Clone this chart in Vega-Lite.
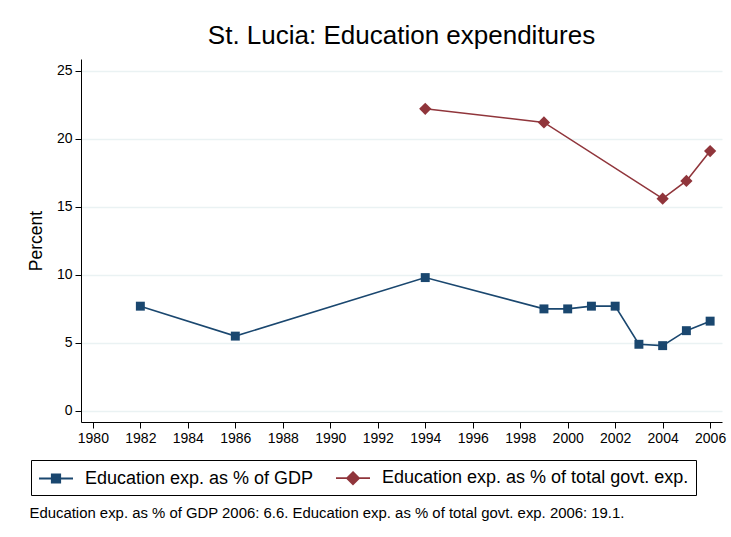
{
  "$schema": "https://vega.github.io/schema/vega-lite/v6.json",
  "autosize": "none",
  "width": 641,
  "height": 363,
  "padding": {"left": 81, "top": 59, "right": 9, "bottom": 115},
  "background": "white",
  "config": {"view": {"stroke": null}, "font": "Liberation Sans"},
  "title": {"text": "St. Lucia: Education expenditures", "fontSize": 26, "font": "Liberation Sans", "fontWeight": "normal", "color": "#000", "anchor": "middle", "offset": 10},
  "data": {"values": [
    {"year": 1982, "series": "Education exp. as % of GDP", "value": 7.7},
    {"year": 1986, "series": "Education exp. as % of GDP", "value": 5.5},
    {"year": 1994, "series": "Education exp. as % of GDP", "value": 9.8},
    {"year": 1999, "series": "Education exp. as % of GDP", "value": 7.5},
    {"year": 2000, "series": "Education exp. as % of GDP", "value": 7.5},
    {"year": 2001, "series": "Education exp. as % of GDP", "value": 7.7},
    {"year": 2002, "series": "Education exp. as % of GDP", "value": 7.7},
    {"year": 2003, "series": "Education exp. as % of GDP", "value": 4.9},
    {"year": 2004, "series": "Education exp. as % of GDP", "value": 4.8},
    {"year": 2005, "series": "Education exp. as % of GDP", "value": 5.9},
    {"year": 2006, "series": "Education exp. as % of GDP", "value": 6.6},
    {"year": 1994, "series": "Education exp. as % of total govt. exp.", "value": 22.2},
    {"year": 1999, "series": "Education exp. as % of total govt. exp.", "value": 21.2},
    {"year": 2004, "series": "Education exp. as % of total govt. exp.", "value": 15.6},
    {"year": 2005, "series": "Education exp. as % of total govt. exp.", "value": 16.9},
    {"year": 2006, "series": "Education exp. as % of total govt. exp.", "value": 19.1}
  ]},
  "encoding": {
    "x": {"field": "year", "type": "quantitative",
      "scale": {"domain": [1979.5, 2006.5], "nice": false, "zero": false},
      "axis": {"values": [1980,1982,1984,1986,1988,1990,1992,1994,1996,1998,2000,2002,2004,2006], "format": "d", "grid": false,
        "domainColor": "#000", "tickColor": "#000", "tickSize": 6, "labelFontSize": 14, "labelColor": "#000", "labelPadding": 3, "labelFont": "Liberation Sans",
        "title": "Education exp. as % of GDP 2006: 6.6. Education exp. as % of total govt. exp. 2006: 19.1.",
        "titleFontSize": 14.9, "titleFontWeight": "normal", "titleColor": "#000", "titleFont": "Liberation Sans",
        "titleAnchor": "start", "titleAlign": "left", "titleX": -52, "titleY": 95, "titleBaseline": "alphabetic"}},
    "y": {"field": "value", "type": "quantitative",
      "scale": {"domain": [-0.81, 25.86], "nice": false, "zero": false},
      "axis": {"values": [0,5,10,15,20,25], "grid": true, "gridColor": "#eaf2f3", "gridWidth": 1.5,
        "domainColor": "#000", "tickColor": "#000", "tickSize": 6, "labelFontSize": 14, "labelColor": "#000", "labelPadding": 3, "labelFont": "Liberation Sans",
        "title": "Percent", "titleFontSize": 17.5, "titleFontWeight": "normal", "titleColor": "#000", "titleFont": "Liberation Sans", "titlePadding": 11}},
    "color": {"field": "series", "type": "nominal",
      "scale": {"domain": ["Education exp. as % of GDP", "Education exp. as % of total govt. exp."], "range": ["#1a476f", "#90353b"]},
      "legend": {"orient": "none", "legendX": -50, "legendY": 401, "direction": "horizontal", "title": null,
        "strokeColor": "#000", "padding": 7, "symbolSize": 400, "symbolOffset": 7, "labelOffset": 18, "columnPadding": 18,
        "symbolOpacity": 1, "symbolStrokeWidth": 1.8,
        "labelFontSize": 18, "labelFont": "Liberation Sans", "labelColor": "#000", "labelLimit": 1000,
        "encode": {"legend": {"update": {"width": {"value": 683}}}}}}
  },
  "layer": [
    {"mark": {"type": "line", "strokeWidth": 1.6}},
    {"mark": {"type": "point", "filled": true, "opacity": 0},
      "encoding": {
        "shape": {"field": "series", "type": "nominal",
          "scale": {"domain": ["Education exp. as % of GDP", "Education exp. as % of total govt. exp."],
            "range": ["M-1.7,0H1.7M-0.42,-0.42H0.42V0.42H-0.42Z", "M-1.7,0H1.7M0,-0.6L0.6,0L0,0.6L-0.6,0Z"]}}}},
    {"transform": [{"filter": "datum.series == 'Education exp. as % of GDP'"}],
      "mark": {"type": "point", "filled": true, "opacity": 1, "shape": "square", "size": 80}},
    {"transform": [{"filter": "datum.series == 'Education exp. as % of total govt. exp.'"}],
      "mark": {"type": "point", "filled": true, "opacity": 1, "shape": "diamond", "size": 150}}
  ]
}
